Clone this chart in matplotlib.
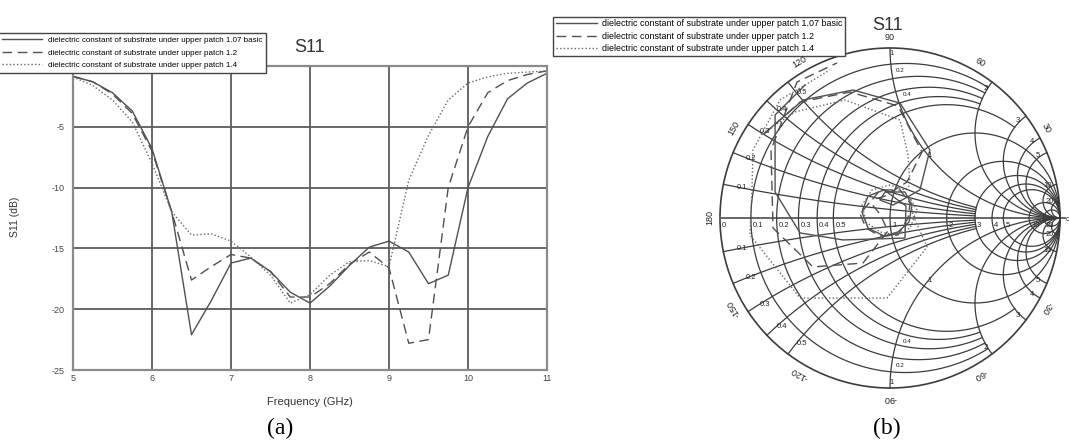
import numpy as np
import matplotlib
matplotlib.use("Agg")
import matplotlib.pyplot as plt
from matplotlib.patches import Circle
from matplotlib.lines import Line2D

# ---------------- data ----------------
freq = [5.0, 5.25, 5.5, 5.75, 6.0, 6.25, 6.5, 6.75, 7.0, 7.25, 7.5, 7.75, 8.0,
        8.25, 8.5, 8.75, 9.0, 9.25, 9.5, 9.75, 10.0, 10.25, 10.5, 10.75, 11.0]
s11_107 = [-0.85, -1.3, -2.2, -3.7, -6.8, -12.0, -22.1, -19.3, -16.2, -15.8, -16.9, -18.6, -19.5,
           -18.1, -16.4, -14.9, -14.4, -15.3, -17.9, -17.2, -10.0, -5.8, -2.7, -1.4, -0.6]
s11_12 = [-0.85, -1.3, -2.3, -3.9, -7.0, -12.0, -17.6, -16.5, -15.5, -15.8, -16.9, -19.0, -19.0,
          -17.9, -16.3, -15.3, -16.6, -22.8, -22.5, -10.0, -5.0, -2.2, -1.2, -0.7, -0.4]
s11_14 = [-0.9, -1.6, -2.8, -4.6, -8.0, -12.0, -13.9, -13.8, -14.4, -15.7, -17.2, -19.5, -18.8,
          -17.2, -16.1, -16.0, -16.5, -9.4, -5.7, -2.8, -1.4, -0.9, -0.6, -0.5, -0.4]
legend_labels = ["dielectric constant of substrate under upper patch 1.07 basic",
                 "dielectric constant of substrate under upper patch 1.2",
                 "dielectric constant of substrate under upper patch 1.4"]
x_ticks = [5, 6, 7, 8, 9, 10, 11]
y_ticks = [-25, -20, -15, -10, -5]
y_tick_labels = ["-25", "-20", "-15", "-10", "-5"]

# reflection coefficient traces on the Smith chart (real, imag), 5 -> 11 GHz
g107_re = [-0.729, -0.512, -0.218, 0.059, 0.235, 0.176, 0.018, -0.059, -0.029, 0.088, 0.129, 0.112, 0.047,
           -0.035, -0.129, -0.165, -0.129, -0.035, 0.094, 0.088, -0.276, -0.529, -0.676, -0.676, -0.500]
g107_im = [0.506, 0.694, 0.753, 0.676, 0.400, 0.165, 0.076, 0.106, 0.153, 0.153, 0.076, -0.024, -0.082,
           -0.106, -0.059, 0.035, 0.129, 0.165, 0.071, -0.118, -0.129, -0.088, 0.153, 0.606, 0.782]
g12_re = [-0.741, -0.529, -0.235, 0.047, 0.188, 0.100, -0.029, -0.106, -0.059, 0.059, 0.118, 0.106, 0.047,
          -0.059, -0.141, -0.176, -0.118, -0.059, -0.012, -0.159, -0.453, -0.688, -0.700, -0.547, -0.312]
g12_im = [0.494, 0.682, 0.741, 0.659, 0.388, 0.212, 0.129, 0.106, 0.165, 0.165, 0.088, 0.000, -0.100,
          -0.106, -0.059, 0.024, 0.094, 0.024, -0.076, -0.265, -0.288, -0.059, 0.400, 0.800, 0.912]
g14_re = [-0.753, -0.559, -0.265, 0.059, 0.106, 0.118, 0.088, 0.000, -0.106, -0.165, -0.141, -0.059, 0.035,
          0.118, 0.159, 0.118, 0.135, 0.218, -0.018, -0.529, -0.824, -0.812, -0.806, -0.647, -0.353]
g14_im = [0.494, 0.624, 0.694, 0.576, 0.371, 0.194, 0.165, 0.194, 0.165, 0.076, -0.024, -0.082, -0.100,
          -0.059, 0.047, 0.118, 0.018, -0.171, -0.471, -0.471, -0.100, 0.165, 0.400, 0.694, 0.871]

# Smith grid: resistance circles (value, clip |x|) and reactance arcs (value, clip r)
r_values = [0.1, 0.2, 0.3, 0.4, 0.5, 1, 2, 3, 4, 5, 10, 20]
r_clip = [2, 2, 2, 2, 3, 1e4, 1e4, 1e4, 1e4, 1e4, 1e4, 1e4]
x_values = [0.1, 0.2, 0.3, 0.4, 0.5, 1, 2, 3, 4, 5, 10, 20]
x_clip = [3, 3, 3, 3, 3, 1e4, 1e4, 1e4, 1e4, 1e4, 1e4, 1e4]
r_axis_labels = ["0", "0.1", "0.2", "0.3", "0.4", "0.5", "1", "2", "3", "4", "5", "10", "20"]
r_axis_values = [0, 0.1, 0.2, 0.3, 0.4, 0.5, 1, 2, 3, 4, 5, 10, 20]
x_left_labels = ["0.1", "0.2", "0.3", "0.4", "0.5"]
x_left_values = [0.1, 0.2, 0.3, 0.4, 0.5]
x_right_labels = ["2", "3", "4", "5", "10", "20"]
x_right_values = [2, 3, 4, 5, 10, 20]
angle_values = [0, 30, 60, 90, 120, 150, 180, -150, -120, -90, -60, -30]

# ---------------- figure ----------------
W, H = 1069, 441
fig = plt.figure(figsize=(W / 100, H / 100), dpi=100)
SANS = ['Liberation Sans Narrow', 'Liberation Sans', 'DejaVu Sans']
SERIF = ['Liberation Serif', 'DejaVu Serif']
LC = '#505050'
styles = [dict(ls='-', lw=1.0, color=LC),
          dict(ls=(0, (7, 4)), lw=1.0, color=LC),
          dict(ls=(0, (1, 1.6)), lw=1.0, color='#686868')]

def px(x, y):
    return x / W, 1 - y / H

# ----- panel (a) -----
ax = fig.add_axes([73 / W, 1 - 370 / H, 474 / W, 304 / H])
for ys, st in zip([s11_107, s11_12, s11_14], styles):
    ax.plot(freq, ys, **st)
ax.set_xlim(5, 11)
ax.set_ylim(-25, 0)
ax.set_xticks(x_ticks)
ax.set_xticklabels([str(v) for v in x_ticks])
ax.set_yticks(y_ticks)
ax.set_yticklabels(y_tick_labels)
ax.grid(True, color='#5c5c5c', lw=1.3)
ax.tick_params(length=0, labelsize=6.5, colors='#444')
ax.tick_params(axis='y', pad=6)
ax.tick_params(axis='x', pad=3)
for lab in ax.get_xticklabels() + ax.get_yticklabels():
    lab.set_family(SANS)
for s in ax.spines.values():
    s.set_color('#8a8a8a')
    s.set_linewidth(1.6)

fig.text(*px(310, 47), "S11", fontsize=13, family=SANS, color='#333', ha='center', va='center')
fig.text(*px(310, 402), "Frequency (GHz)", fontsize=8, family=SANS, color='#333', ha='center', va='center')
fig.text(*px(15, 217), "S11 (dB)", fontsize=7.5, family=SANS, color='#333', ha='center', va='center',
         rotation=90)
fig.text(*px(280, 428), "(a)", fontsize=17, family=SERIF, color='black', ha='center', va='center')
fig.text(*px(887, 428), "(b)", fontsize=17, family=SERIF, color='black', ha='center', va='center')

handles = [Line2D([], [], **st) for st in styles]
leg1 = fig.legend(handles, legend_labels, loc='upper left', bbox_to_anchor=px(-2, 33),
                  frameon=True, fancybox=False, edgecolor='#444', framealpha=1,
                  prop={'family': SANS, 'size': 5.8}, handlelength=5.0, handletextpad=0.7,
                  labelspacing=0.6, borderpad=0.45, borderaxespad=0)
leg1.get_frame().set_linewidth(1.0)
leg2 = fig.legend(handles, legend_labels, loc='lower left', bbox_to_anchor=px(553, 56),
                  frameon=True, fancybox=False, edgecolor='#444', framealpha=1,
                  prop={'family': SANS, 'size': 6.4}, handlelength=4.6, handletextpad=0.6,
                  labelspacing=0.4, borderpad=0.3, borderaxespad=0)
leg2.get_frame().set_linewidth(1.0)

# ----- panel (b): Smith chart -----
R = 170.0
cx, cy = 890.0, 218.0
L = 1.12
ax2 = fig.add_axes([(cx - L * R) / W, 1 - (cy + L * R) / H, 2 * L * R / W, 2 * L * R / H])
ax2.set_xlim(-L, L)
ax2.set_ylim(-L, L)
ax2.axis('off')
GC = '#3c3c3c'

def gam(z):
    return (z - 1) / (z + 1)

ax2.add_patch(Circle((0, 0), 1, fill=False, lw=1.2, ec=GC))
ax2.plot([-1, 1.03], [0, 0], color='#666', lw=1.4)
for r, xc in zip(r_values, r_clip):
    t = np.linspace(-np.arctan(xc), np.arctan(xc), 900)
    g = gam(r + 1j * np.tan(t))
    ax2.plot(g.real, g.imag, color=GC, lw=0.9)
for xv, rc in zip(x_values, x_clip):
    rp = np.concatenate([[0], np.logspace(-3, np.log10(rc), 800)])
    for sgn in (1, -1):
        g = gam(rp + 1j * sgn * xv)
        ax2.plot(g.real, g.imag, color=GC, lw=0.9)

lab_kw = dict(fontsize=5.5, family=SANS, color='#222')
for t, v in zip(r_axis_labels, r_axis_values):
    g = gam(complex(v, 0))
    ax2.text(g.real + 0.012, -0.045, t, ha='left', va='center', **lab_kw)
for t, v in zip(x_left_labels, x_left_values):
    for sgn in (1, -1):
        g = gam(complex(0, sgn * v)) * 0.93
        ax2.text(g.real + 0.04, g.imag - sgn * 0.005, t, ha='center', va='center', **lab_kw)
for t, v in zip(x_right_labels, x_right_values):
    for sgn in (1, -1):
        g = gam(complex(0, sgn * v)) * 0.955
        ax2.text(g.real - 0.01, g.imag, t, ha='center', va='center', **lab_kw)
for sgn in (1, -1):
    ax2.text(0.01, sgn * 0.97, "1", ha='center', va='center', **lab_kw)
    for rv, t in [(0.2, "0.2"), (0.4, "0.4")]:
        g = gam(complex(rv, sgn * 1.0))
        ax2.text(g.real + 0.045, g.imag + sgn * 0.05, t, ha='center', va='center',
                 fontsize=4.5, family=SANS, color='#222')
    g = gam(complex(1, sgn * 1.0))
    ax2.text(g.real + 0.03, g.imag - sgn * 0.03, "1", ha='center', va='center', **lab_kw)

for a in angle_values:
    th = np.deg2rad(a)
    rr = 1.035 if a == 0 else 1.06
    ax2.text(rr * np.cos(th), rr * np.sin(th), str(a), rotation=a - 90,
             rotation_mode='anchor', ha='center', va='center',
             fontsize=5.5 if a == 0 else 6.5, family=SANS, color='#222', clip_on=False)

for gr, gi, st in zip([g107_re, g12_re, g14_re], [g107_im, g12_im, g14_im], styles):
    ax2.plot(gr, gi, **st)

fig.text(*px(888, 26), "S11", fontsize=13, family=SANS, color='#333', ha='center', va='center')

fig.savefig("out.png", dpi=100, facecolor='white')
